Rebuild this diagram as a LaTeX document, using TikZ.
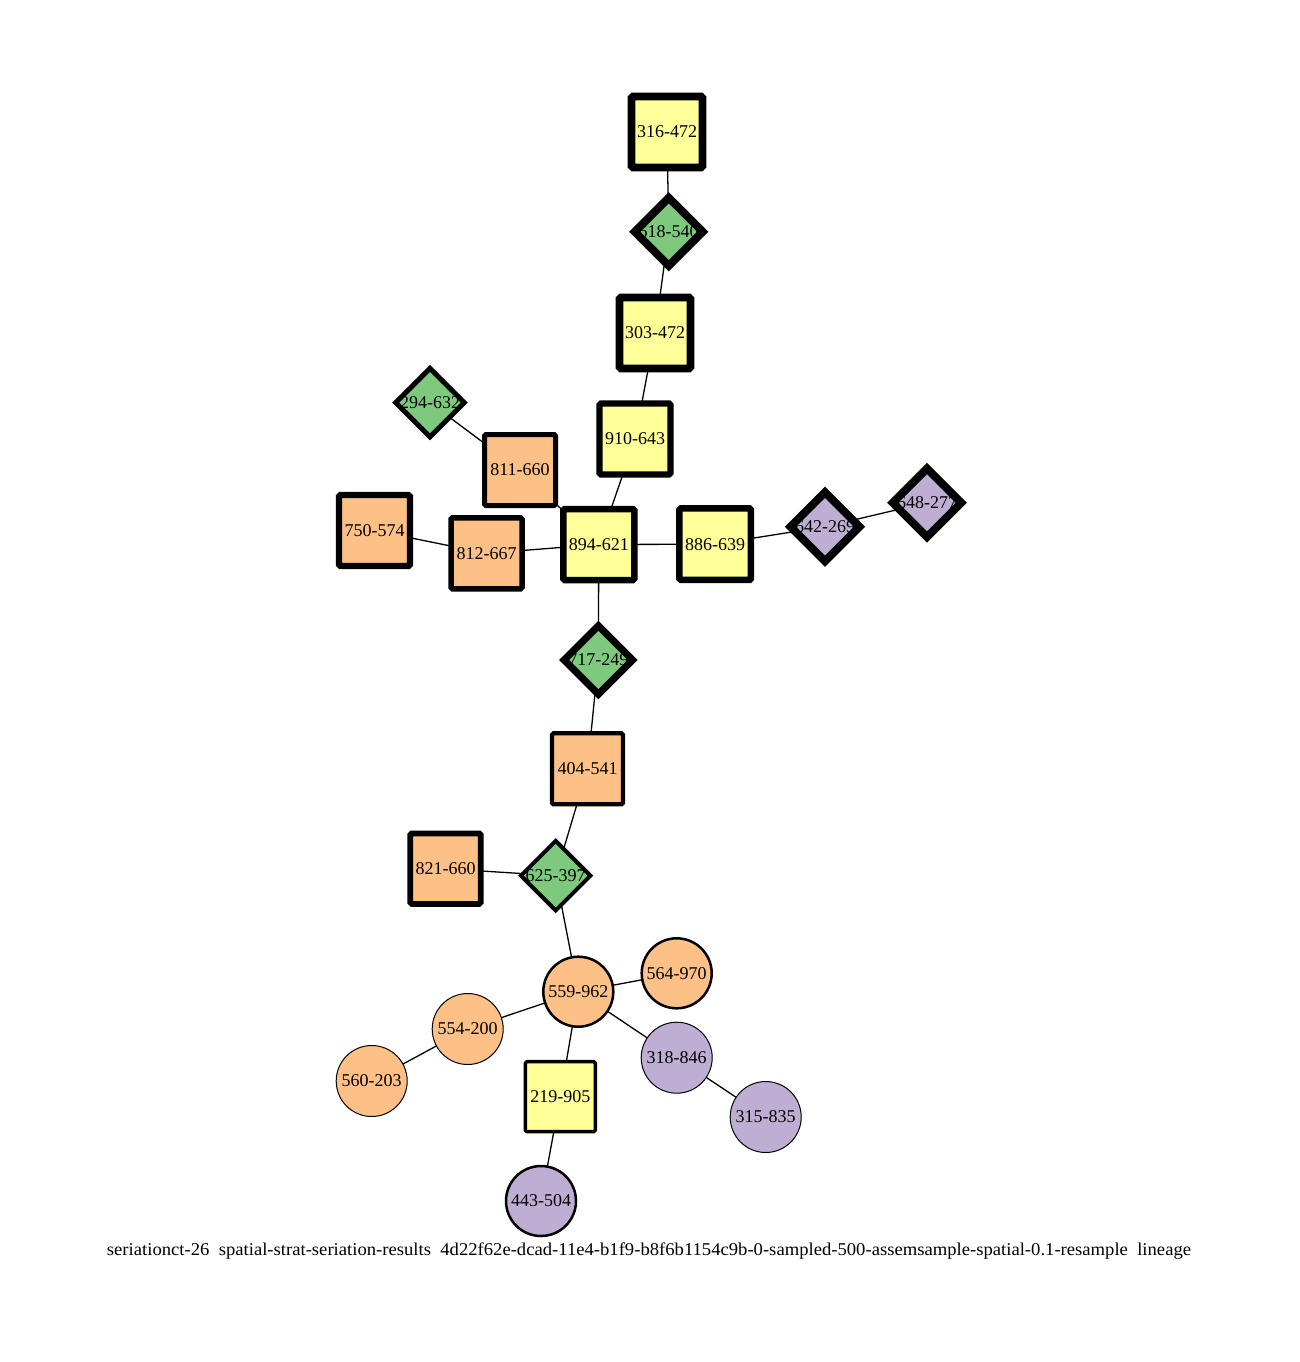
\documentclass[tikz,border=0pt]{standalone}
\usepackage{fontspec}
\setmainfont{Liberation Serif}
\usetikzlibrary{shapes.geometric,backgrounds}
\pgfdeclarelayer{fg}
\pgfsetlayers{background,main,fg}
\definecolor{cyel}{HTML}{FFFF99}
\definecolor{cgrn}{HTML}{7FC97F}
\definecolor{corg}{HTML}{FDC086}
\definecolor{cpur}{HTML}{BEAED4}
\newcommand\lblfont{\fontsize{18}{20}\selectfont}
\tikzset{
  base/.style={inner sep=0pt, outer sep=0pt, font=\lblfont},
  sqbox/.style={base, rectangle, fill=#1},
  dmbox/.style={base, diamond, fill=#1},
  cibox/.style={base, circle, draw=black, fill=#1},
  txt/.style={label={[font=\lblfont, inner sep=0pt]center:#1}},
  edge/.style={draw=black, line width=1.3pt}
}
\begin{document}
\begin{tikzpicture}[x=1pt, y=-1pt]
\useasboundingbox (0,0) rectangle (1299,1362);
% squares
\node[sqbox=cyel, minimum size=71, txt=316-472] (n316) at (667,132) {};
\node[sqbox=cyel, minimum size=71, txt=303-472] (n303) at (655,333) {};
\node[sqbox=cyel, minimum size=71, txt=910-643] (n910) at (635,439) {};
\node[sqbox=corg, minimum size=71, txt=811-660] (n811) at (520,470) {};
\node[sqbox=corg, minimum size=71, txt=750-574] (n750) at (374.5,530.5) {};
\node[sqbox=corg, minimum size=71, txt=812-667] (n812) at (486.5,553.3) {};
\node[sqbox=cyel, minimum size=71, txt=894-621] (n894) at (598.8,544.5) {};
\node[sqbox=cyel, minimum size=71.5, txt=886-639] (n886) at (715.2,544.2) {};
\node[sqbox=corg, minimum size=71, txt=404-541] (n404) at (587.5,768.8) {};
\node[sqbox=corg, minimum size=70.5, txt=821-660] (n821) at (445.5,868.7) {};
\node[sqbox=cyel, minimum size=70, txt=219-905] (n219) at (560.3,1096.7) {};
% diamonds
\node[dmbox=cgrn, minimum size=68, txt=618-540] (n618) at (668.7,231.7) {};
\node[dmbox=cgrn, minimum size=68.5, txt=294-632] (n294) at (430,402.7) {};
\node[dmbox=cpur, minimum size=69, txt=642-269] (n642) at (825,526.7) {};
\node[dmbox=cpur, minimum size=68.5, txt=648-277] (n648) at (927,502.7) {};
\node[dmbox=cgrn, minimum size=68.5, txt=717-249] (n717) at (598.3,660) {};
\node[dmbox=cgrn, minimum size=69.5, txt=625-397] (n625) at (555.7,875.7) {};
% circles
\node[cibox=corg, line width=2.5pt, minimum size=70] (n559) at (578.3,991.7) {559-962};
\node[cibox=corg, line width=2.5pt, minimum size=70] (n564) at (676.7,973.3) {564-970};
\node[cibox=corg, line width=1pt, minimum size=71] (n554) at (467.7,1029) {554-200};
\node[cibox=corg, line width=1pt, minimum size=71] (n560) at (371.7,1081) {560-203};
\node[cibox=cpur, line width=1pt, minimum size=71] (n318) at (676.7,1057.7) {318-846};
\node[cibox=cpur, line width=1pt, minimum size=71] (n315) at (765.7,1117) {315-835};
\node[cibox=cpur, line width=2.5pt, minimum size=70] (n443) at (541,1201) {443-504};
% connectors
\begin{scope}[on background layer]
\foreach \a/\b in {n316/n618, n618/n303, n303/n910, n910/n894, n294/n811,
  n811/n894, n750/n812, n812/n894, n894/n886, n886/n642, n642/n648,
  n894/n717, n717/n404, n404/n625, n821/n625, n625/n559, n559/n564,
  n559/n554, n554/n560, n559/n219, n559/n318, n318/n315, n219/n443}
  \draw[edge] (\a.center) -- (\b.center);
\end{scope}
% outlines over the labels
\begin{pgfonlayer}{fg}
\foreach \n/\w in {n316/7.7, n303/7.7, n910/6.2, n811/5, n750/6.2, n812/5.5,
  n894/6.5, n886/6.5, n404/4.2, n821/5.7, n219/3.5}
  \draw[line width=\w pt, rounded corners=1.5pt] (\n.north west) rectangle (\n.south east);
\foreach \n/\w in {n618/8, n294/5, n642/8, n648/8, n717/7, n625/4}
  \draw[line width=\w pt, line join=miter] (\n.north) -- (\n.east) -- (\n.south) -- (\n.west) -- cycle;
\end{pgfonlayer}
% caption
\node[inner sep=0pt] (caption) at (649,1251) {\resizebox{1084pt}{\height}{\fontsize{18}{20}\selectfont seriationct-26\ \ spatial-strat-seriation-results\ \ 4d22f62e-dcad-11e4-b1f9-b8f6b1154c9b-0-sampled-500-assemsample-spatial-0.1-resample\ \ lineage}};
\end{tikzpicture}
\end{document}
